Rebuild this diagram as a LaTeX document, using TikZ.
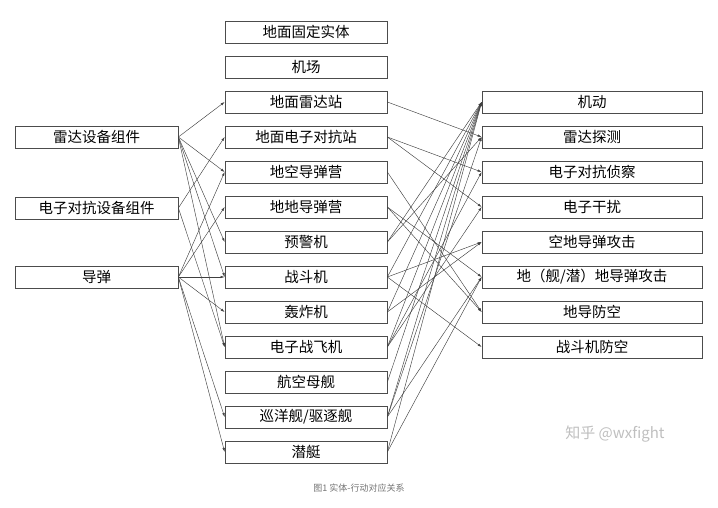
\documentclass[tikz,border=0pt]{standalone}
\usepackage{fontspec}
\setmainfont{Noto Sans CJK SC}
\usetikzlibrary{arrows.meta}
\begin{document}
\begin{tikzpicture}[x=1pt,y=-1pt,
 bx/.style={draw=black!70,line width=0.7pt,minimum height=22pt,inner sep=0pt,font=\fontsize{14.5}{14.5}\selectfont},
 lb/.style={bx,minimum width=163pt},
 mb/.style={bx,minimum width=162pt},
 rb/.style={bx,minimum width=220pt},
 ar/.style={draw=black!75,line width=0.45pt,-{Latex[length=4pt,width=2.5pt]}}]
\useasboundingbox (0,0) rectangle (718,508);
\node[lb] (L1) at (96.5,137) {雷达设备组件};
\node[lb] (L2) at (96.5,208) {电子对抗设备组件};
\node[lb] (L3) at (96.5,277) {导弹};
\foreach \n/\t [count=\i] in {M1/{地面固定实体},M2/{机场},M3/{地面雷达站},M4/{地面电子对抗站},M5/{地空导弹营},M6/{地地导弹营},M7/{预警机},M8/{战斗机},M9/{轰炸机},M10/{电子战飞机},M11/{航空母舰},M12/{巡洋舰/驱逐舰},M13/{潜艇}}
  \node[mb] (\n) at (306,{32+35*(\i-1)}) {\t};
\foreach \n/\t [count=\i] in {R1/{机动},R2/{雷达探测},R3/{电子对抗侦察},R4/{电子干扰},R5/{空地导弹攻击},R6/{地（舰/潜）地导弹攻击},R7/{地导防空},R8/{战斗机防空}}
  \node[rb] (\n) at (592,{102+35*(\i-1)}) {\t};
\foreach \a/\b in {L1/M3,L1/M5,L1/M7,L1/M8,L1/M10,L2/M4,L2/M10,L3/M5,L3/M6,L3/M8,L3/M9,L3/M12,L3/M13,
 M3/R2,M4/R3,M4/R4,M5/R7,M6/R6,M6/R7,M7/R1,M7/R2,M8/R1,M8/R5,M8/R8,M9/R1,M9/R5,M10/R1,M10/R3,M10/R4,M11/R1,M12/R1,M12/R2,M12/R6,M13/R1,M13/R6}
  \draw[ar] (\a.east) -- (\b.west);
\node[text=black!25,font=\fontsize{15}{15}\selectfont] (wm) at (615,434) {知乎 @wxfight};
\node[text=black!55,font=\fontsize{9}{9}\selectfont] (cap) at (359,488) {图1 实体-行动对应关系};
\end{tikzpicture}
\end{document}
